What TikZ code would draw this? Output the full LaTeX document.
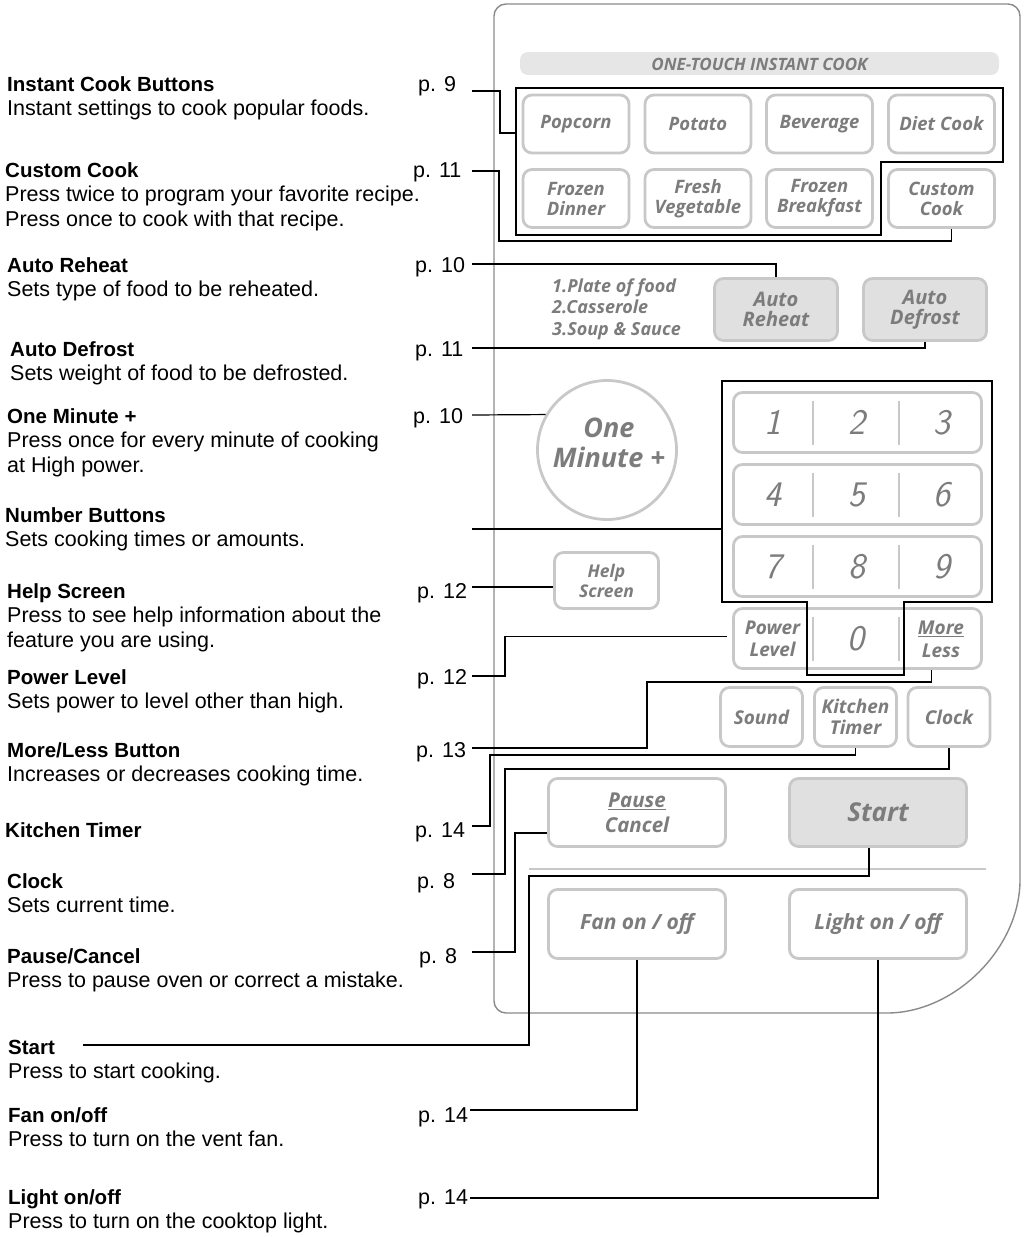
\documentclass[tikz,border=0pt]{standalone}
\usepackage{fontspec}
\setmainfont{Liberation Sans}
\newfontfamily\keyfont{Open Sans}
\usetikzlibrary{calc, positioning}
\definecolor{keyline}{HTML}{C8C8C8}
\definecolor{keytext}{HTML}{7C7C7C}
\definecolor{keyfill}{HTML}{E0E0E0}
\definecolor{barfill}{HTML}{E6E6E6}
\definecolor{panelline}{HTML}{8A8A8A}
\tikzset{
    key/.style={rectangle, rounded corners=9pt, draw=keyline, line width=2.8pt, fill=white, text=keytext, align=center, inner sep=0pt, font=\keyfont\bfseries\itshape\fontsize{18.5}{20}\selectfont},
    keyGrey/.style={key, fill=keyfill},
    keySmall/.style={key, minimum width=106, minimum height=58},
    keyWide/.style={key, minimum width=177, minimum height=68, font=\keyfont\bfseries\itshape\fontsize{21}{25}\selectfont},
    keyText/.style={text=keytext, align=center, inner sep=0pt},
    digit/.style={text=keytext, inner sep=0pt, font=\sffamily\itshape\fontsize{36}{36}\selectfont},
    barText/.style={text=keytext, inner sep=0pt, font=\keyfont\bfseries\itshape\fontsize{17}{17}\selectfont},
    listText/.style={anchor=base west, inner sep=0pt, text=keytext, font=\keyfont\bfseries\itshape\fontsize{18}{21.5}\selectfont},
    noteText/.style={anchor=base west, inner sep=0pt, font=\fontsize{21.5}{24.5}\selectfont},
    pageText/.style={anchor=base west, inner sep=0pt, font=\fontsize{21.5}{24.5}\selectfont},
    conn/.style={draw=black, line width=1.2pt},
    grp/.style={draw=black, line width=1.3pt},
    divLine/.style={draw=keyline, line width=2.6pt},
    panelLine/.style={draw=panelline, line width=1.4pt},
}
\newcommand{\keyNote}[4]{
    % bold title, plain lines below; [t] keeps the base on the first line
    \node[noteText] (#1) at (#2) {\begin{tabular}[t]{@{}l@{}}\textbf{\fontsize{20.5}{24.5}\selectfont #3}\\#4\end{tabular}};
}
\newcommand{\pageRef}[3]{
    \node[pageText] (#1) at (#2) {p. #3};
}
\begin{document}
\begin{tikzpicture}[x=1pt, y=-1pt]
    \useasboundingbox (0,0) rectangle (1024,1237);

    \draw[panelLine, rounded corners=12pt] (700,1013) -- (494,1013) -- (494,4) -- (1020,4) -- (1020,868) .. controls (1020,948) and (955,1013) .. (875,1013) -- cycle;
    \fill[barfill, rounded corners=8pt] (520,52) rectangle (999,75);
    \node[barText] (barTitle) at (759.5,64) {ONE-TOUCH INSTANT COOK};

    \node[keySmall] (popcorn) at (576,124) {Popcorn};
    \node[keySmall] (potato) at (698,124) {Potato};
    \node[keySmall] (beverage) at (819.5,124) {Beverage};
    \node[keySmall] (diet) at (941.5,124) {Diet Cook};
    \node[keySmall] (frozenD) at (576,198.5) {Frozen\\Dinner};
    \node[keySmall] (fresh) at (698,198.5) {Fresh\\Vegetable};
    \node[keySmall] (frozenB) at (819.5,198.5) {Frozen\\Breakfast};
    \node[keySmall] (custom) at (941.5,198.5) {Custom\\Cook};
    \draw[grp] (516,88) -- (1003,88) -- (1003,162) -- (881,162) -- (881,235) -- (516,235) -- cycle;

    \node[keyGrey, minimum width=123, minimum height=62, font=\keyfont\bfseries\itshape\fontsize{20}{20.5}\selectfont] (reheat) at (776,309.5) {Auto\\Reheat};
    \node[keyGrey, minimum width=123, minimum height=62, font=\keyfont\bfseries\itshape\fontsize{20}{20.5}\selectfont] (defrost) at (925,309.5) {Auto\\Defrost};
    \node[listText] (foodList) at (552,292) {\begin{tabular}[t]{@{}l@{}}1.Plate of food\\2.Casserole\\3.Soup \& Sauce\end{tabular}};

    \node[circle, draw=keyline, line width=2.8pt, minimum size=139, inner sep=0pt] (onemin) at (607,450) {};
    \node[keyText, font=\keyfont\bfseries\itshape\fontsize{27}{30}\selectfont] (oneminText) at (609,443) {One\\Minute +};

    \foreach \r in {0,...,3}{
        \node[key, minimum width=248, minimum height=60] (row\r) at (857.5,422.5+72*\r) {};
        \draw[divLine] (813,422.5+72*\r-22) -- ++(0,44);
        \draw[divLine] (899,422.5+72*\r-22) -- ++(0,44);
    }
    \foreach \r in {0,1,2}
        \foreach \c in {0,1,2}{
            \pgfmathtruncatemacro{\d}{3*\r+\c+1}
            \node[digit] (num\d) at (772.5+84.5*\c,422.5+72*\r) {\d};
        }
    \node[digit] (num0) at (856,639) {0};
    \node[keyText, font=\keyfont\bfseries\itshape\fontsize{19}{22}\selectfont] (power) at (772.5,639) {Power\\Level};
    \node[keyText, font=\keyfont\bfseries\itshape\fontsize{19}{23}\selectfont] (moreless) at (941,639) {\underline{More}\\Less};
    \draw[grp] (722,381) -- (992,381) -- (992,602) -- (904,602) -- (904,675) -- (807,675) -- (807,602) -- (722,602) -- cycle;

    \node[key, minimum width=104, minimum height=56, font=\keyfont\bfseries\itshape\fontsize{17.5}{20}\selectfont] (help) at (606.5,580.5) {Help\\Screen};
    \node[key, minimum width=82, minimum height=59, font=\keyfont\bfseries\itshape\fontsize{19}{21}\selectfont] (sound) at (761.5,717) {Sound};
    \node[key, minimum width=82, minimum height=59, font=\keyfont\bfseries\itshape\fontsize{19}{21}\selectfont] (timer) at (855.5,717) {Kitchen\\Timer};
    \node[key, minimum width=82, minimum height=59, font=\keyfont\bfseries\itshape\fontsize{19}{21}\selectfont] (clock) at (949,717) {Clock};

    \node[keyWide, font=\keyfont\bfseries\itshape\fontsize{20.5}{25}\selectfont] (pause) at (637,812.5) {\underline{Pause}\\Cancel};
    \node[keyWide, fill=keyfill, font=\keyfont\bfseries\itshape\fontsize{26}{26}\selectfont] (start) at (878,812.5) {Start};
    \draw[draw=keyline, line width=1.5pt] (529,869) -- (986,869);
    \node[keyWide, minimum height=69] (fan) at (637,924) {Fan on / off};
    \node[keyWide, minimum height=69] (light) at (878,924) {Light on / off};

    \keyNote{nInstant}{7,91}{Instant Cook Buttons}{Instant settings to cook popular foods.}
    \keyNote{nCustom}{5,177}{Custom Cook}{Press twice to program your favorite recipe.\\Press once to cook with that recipe.}
    \keyNote{nReheat}{7,272}{Auto Reheat}{Sets type of food to be reheated.}
    \keyNote{nDefrost}{10,356}{Auto Defrost}{Sets weight of food to be defrosted.}
    \keyNote{nOneMin}{7,423}{One Minute +}{Press once for every minute of cooking\\at High power.}
    \keyNote{nNumber}{5,522}{Number Buttons}{Sets cooking times or amounts.}
    \keyNote{nHelp}{7,598}{Help Screen}{Press to see help information about the\\feature you are using.}
    \keyNote{nPower}{7,684}{Power Level}{Sets power to level other than high.}
    \keyNote{nMore}{7,757}{More/Less Button}{Increases or decreases cooking time.}
    \node[noteText, font=\bfseries\fontsize{20.5}{24.5}\selectfont] (nTimer) at (5,837) {Kitchen Timer};
    \keyNote{nClock}{7,888}{Clock}{Sets current time.}
    \keyNote{nPause}{7,963}{Pause/Cancel}{Press to pause oven or correct a mistake.}
    \keyNote{nStart}{8,1054}{Start}{Press to start cooking.}
    \keyNote{nFan}{8,1122}{Fan on/off}{Press to turn on the vent fan.}
    \keyNote{nLight}{8,1204}{Light on/off}{Press to turn on the cooktop light.}

    \pageRef{p9}{418,91}{9}
    \pageRef{p11a}{413,177}{11}
    \pageRef{p10a}{415,272}{10}
    \pageRef{p11b}{415,356}{11}
    \pageRef{p10b}{413,423}{10}
    \pageRef{p12a}{417,598}{12}
    \pageRef{p12b}{417,684}{12}
    \pageRef{p13}{416,757}{13}
    \pageRef{p14a}{415,837}{14}
    \pageRef{p8a}{417,888}{8}
    \pageRef{p8b}{419,963}{8}
    \pageRef{p14b}{418,1122}{14}
    \pageRef{p14c}{418,1204}{14}

    \coordinate (c9) at (472,91);
    \coordinate (c11a) at (472,171);
    \coordinate (c10a) at (472,264);
    \coordinate (c11b) at (472,348);
    \coordinate (c10b) at (472,415);
    \coordinate (cNum) at (472,529);
    \coordinate (c12a) at (472,587);
    \coordinate (c12b) at (472,676);
    \coordinate (c13) at (472,748);
    \coordinate (c14a) at (472,826);
    \coordinate (c8a) at (472,874);
    \coordinate (c8b) at (472,952);
    \coordinate (cStart) at (83,1045);
    \coordinate (c14b) at (470,1110);
    \coordinate (c14c) at (470,1198);
    \coordinate (instEdge) at (516,133);
    \coordinate (numEdge) at (722,529);

    \draw[conn] (c9) -- ++(28,0) |- (instEdge);
    \draw[conn] (c11a) -- ++(27,0) |- ([xshift=10pt, yshift=-12pt]custom.south) -- ([xshift=10pt]custom.south);
    \draw[conn] (c10a) -| (reheat.north);
    \draw[conn] (c11b) -| (defrost.south);
    \draw[conn] (c10b) -- (onemin.150);
    \draw[conn] (cNum) -- (numEdge);
    \draw[conn] (c12a) -- (c12a -| help.west);
    \draw[conn] (c12b) -- ++(33,0) |- ([xshift=-5pt, yshift=2pt]row3.west);
    \draw[conn] (c13) -- ++(175,0) |- ([xshift=74pt, yshift=-12pt]row3.south) -- ([xshift=74pt]row3.south);
    \draw[conn] (c14a) -- ++(18,0) |- ([yshift=-7pt]timer.south) -- (timer.south);
    \draw[conn] (c8a) -- ++(33,0) |- ([yshift=-21pt]clock.south) -- (clock.south);
    \draw[conn] (c8b) -- ++(43,0) |- ([yshift=-20.5pt]pause.west);
    \draw[conn] (cStart) -- ++(446,0) |- ([xshift=-9pt, yshift=-28pt]start.south) -- ([xshift=-9pt]start.south);
    \draw[conn] (c14b) -| (fan.south);
    \draw[conn] (c14c) -| (light.south);

\end{tikzpicture}
\end{document}
